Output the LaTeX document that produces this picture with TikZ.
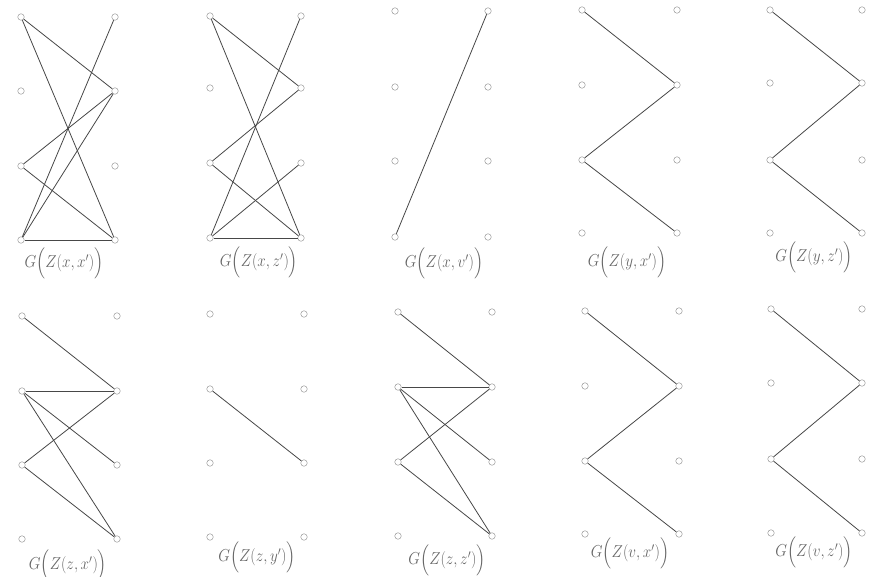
\documentclass[tikz,border=0pt]{standalone}
\usepackage{amsmath}
\begin{document}
\begin{tikzpicture}[x=1pt,y=-1pt,
  vtx/.style={circle,draw=black!40,fill=white,line width=0.5pt,inner sep=0pt,minimum size=6.5pt},
  edge/.style={draw=black!72,line width=0.8pt},
  lbl/.style={text=black!60,font=\fontsize{18}{22}\selectfont,xscale=0.88,inner sep=0pt}]
\useasboundingbox (0,0) rectangle (869,577);
\newcommand\mkbip[7]{%
  \foreach \i/\yy in {1/#4,2/#5,3/#6,4/#7}{%
    \node[vtx] (#1-L\i) at (#2,\yy) {};
    \node[vtx] (#1-R\i) at (#3,\yy) {};
  }}
\newcommand\mkedges[2]{\foreach \a/\b in {#2}{\draw[edge] (#1-\a) -- (#1-\b);}}
% vertices
\mkbip{g1}{21}{115}{17}{91}{166}{240}
\mkbip{g2}{210}{301}{16}{88}{163}{238}
\mkbip{g3}{395}{488}{11}{87}{161}{237}
\mkbip{g4}{582}{677}{10}{85}{160}{233}
\mkbip{g5}{770}{862}{10}{83}{160}{233}
\mkbip{g6}{22}{117}{316}{391}{465}{539}
\mkbip{g7}{210}{304}{314}{389}{463}{537}
\mkbip{g8}{398}{492}{312}{387}{462}{536}
\mkbip{g9}{585}{679}{311}{386}{461}{534}
\mkbip{g10}{771}{862}{309}{383}{459}{533}
% edges
\mkedges{g1}{L1/R2,L1/R4,R1/L4,R2/L3,R2/L4,L3/R4,L4/R4}
\mkedges{g2}{L1/R2,L1/R4,R1/L4,R2/L3,L3/R4,R3/L4,L4/R4}
\mkedges{g3}{L4/R1}
\mkedges{g4}{L1/R2,R2/L3,L3/R4}
\mkedges{g5}{L1/R2,R2/L3,L3/R4}
\mkedges{g6}{L1/R2,L2/R2,L2/R3,L2/R4,L3/R2,L3/R4}
\mkedges{g7}{L2/R3}
\mkedges{g8}{L1/R2,L2/R2,L2/R3,L2/R4,L3/R2,L3/R4}
\mkedges{g9}{L1/R2,R2/L3,L3/R4}
\mkedges{g10}{L1/R2,R2/L3,L3/R4}
% labels
\node[lbl] (t1) at (64,263) {$G\Bigl(Z(x,x')\Bigr)$};
\node[lbl] (t2) at (259,262) {$G\Bigl(Z(x,z')\Bigr)$};
\node[lbl] (t3) at (444,263) {$G\Bigl(Z(x,v')\Bigr)$};
\node[lbl] (t4) at (627,262) {$G\Bigl(Z(y,x')\Bigr)$};
\node[lbl] (t5) at (814,257) {$G\Bigl(Z(y,z')\Bigr)$};
\node[lbl] (t6) at (68,565) {$G\Bigl(Z(z,x')\Bigr)$};
\node[lbl] (t7) at (257,557) {$G\Bigl(Z(z,y')\Bigr)$};
\node[lbl] (t8) at (447,560) {$G\Bigl(Z(z,z')\Bigr)$};
\node[lbl] (t9) at (630,553) {$G\Bigl(Z(v,x')\Bigr)$};
\node[lbl] (t10) at (814,552) {$G\Bigl(Z(v,z')\Bigr)$};
\end{tikzpicture}
\end{document}
